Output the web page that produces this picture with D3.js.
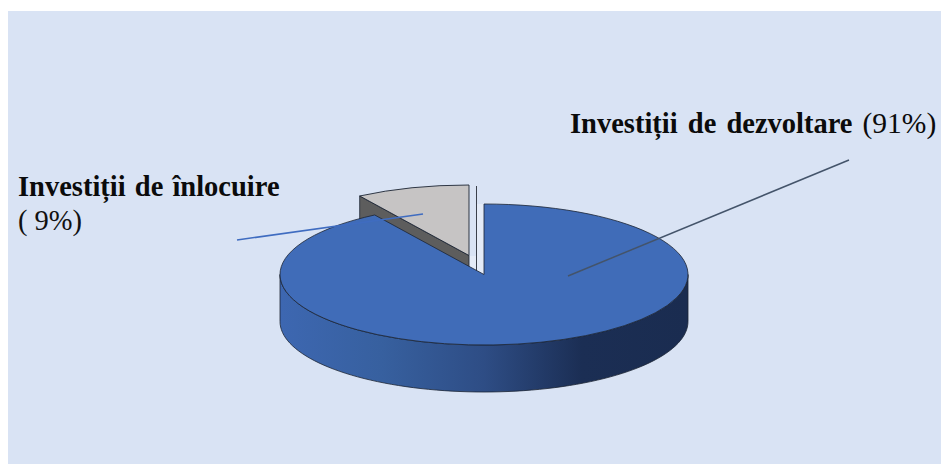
<!DOCTYPE html>
<html><head><meta charset="utf-8"><style>html,body{margin:0;background:#fff}svg{display:block}</style>
<script src="https://cdn.jsdelivr.net/npm/d3@7"></script></head><body><svg id="c" width="941" height="464"></svg>
<script>
const categories=["Investiții de înlocuire","Investiții de dezvoltare"];
const shares=[9,91];
const shareLabels=["( 9%)","(91%)"];
const colors=["#c6c4c4","#406cb8"];
const sideColors=["#5d5d5d","#1a2c50"];
const svg=d3.select("#c");
const W=941,H=464;
const cx=484,cy=274.5,rx=204,ry=70.5,depth=47,gx=469,gy=255.5;
const defs=svg.append("defs");
const g=defs.append("linearGradient").attr("id","side").attr("gradientUnits","userSpaceOnUse")
 .attr("x1",cx-rx).attr("x2",cx+rx).attr("y1",0).attr("y2",0);
[[0,"#3d67b1"],[.25,"#37609f"],[.5,"#2e4d85"],[.74,"#1b2e54"],[1,"#1a2c50"]].forEach(s=>g.append("stop").attr("offset",s[0]).attr("stop-color",s[1]));
svg.append("rect").attr("x",8).attr("y",11).attr("width",W-8).attr("height",H-11).attr("fill","#d9e3f4");
const pie=d3.pie().sort(null).value(d=>d).startAngle(-shares[0]/100*2*Math.PI).endAngle(2*Math.PI-shares[0]/100*2*Math.PI);
const arcs=pie(shares);
const arc=d3.arc().innerRadius(0).outerRadius(rx);
const k=ry/rx;
function pt(a,x0,y0){return [x0+rx*Math.sin(a),y0-ry*Math.cos(a)];}
function sidePath(a0,a1,x0,y0,d){
  const n=80,top=d3.range(n+1).map(i=>pt(a0+(a1-a0)*i/n,x0,y0));
  const bot=top.slice().reverse().map(p=>[p[0],p[1]+d]);
  return d3.line()(top.concat(bot))+"Z";
}
const stroke="#1c2533";
// replacement slice (pulled out, back): its cut face runs down behind the large slice
const a=arcs[0];
const gl=pt(a.startAngle,gx,gy);
svg.append("path").attr("d",d3.line()([gl,[gx,gy],[gx,gy+depth],[gl[0],gl[1]+depth]])+"Z").attr("fill",sideColors[0]).attr("stroke",stroke).attr("stroke-width",.8);
svg.append("path").attr("d",arc(a)).attr("transform",`translate(${gx},${gy}) scale(1,${k})`).attr("fill",colors[0]).attr("stroke",stroke).attr("stroke-width",.9).attr("vector-effect","non-scaling-stroke");
// lighter sliver between the slices
svg.append("rect").attr("x",470).attr("y",256).attr("width",6).attr("height",20).attr("fill","#e4ebf7");
svg.append("rect").attr("x",477).attr("y",204).attr("width",6.5).attr("height",72).attr("fill","#e4ebf7");
svg.append("line").attr("x1",476.5).attr("x2",476.5).attr("y1",186).attr("y2",271).attr("stroke","#3a3f4a").attr("stroke-width",1);
// development slice
const b=arcs[1];
svg.append("path").attr("d",sidePath(Math.PI/2,3*Math.PI/2,cx,cy,depth)).attr("fill","url(#side)").attr("stroke",stroke).attr("stroke-width",.8);
svg.append("path").attr("d",arc(b)).attr("transform",`translate(${cx},${cy}) scale(1,${k})`).attr("fill",colors[1]).attr("stroke",stroke).attr("stroke-width",.8).attr("vector-effect","non-scaling-stroke");
// leader lines
svg.append("line").attr("x1",237).attr("y1",240).attr("x2",423).attr("y2",214).attr("stroke","#3f6cc0").attr("stroke-width",1.5);
svg.append("line").attr("x1",568).attr("y1",276).attr("x2",849).attr("y2",160).attr("stroke","#44546a").attr("stroke-width",1.5);
// labels
const font="'Liberation Serif','Times New Roman',serif";
const t1=svg.append("text").attr("x",18).attr("y",196).attr("font-family",font).attr("font-size",28.5).attr("fill","#0b0b0b");
t1.append("tspan").attr("font-weight","bold").attr("word-spacing",2).text(categories[0]);
svg.append("text").attr("x",18).attr("y",230).attr("font-family",font).attr("font-size",28.5).attr("fill","#111").text(shareLabels[0]);
const t2=svg.append("text").attr("x",570).attr("y",133).attr("font-family",font).attr("font-size",28.5).attr("fill","#0b0b0b");
t2.append("tspan").attr("font-weight","bold").attr("word-spacing",3).text(categories[1]);
t2.append("tspan").attr("dx",10).attr("font-size",29.5).text(shareLabels[1]);
</script></body></html>
